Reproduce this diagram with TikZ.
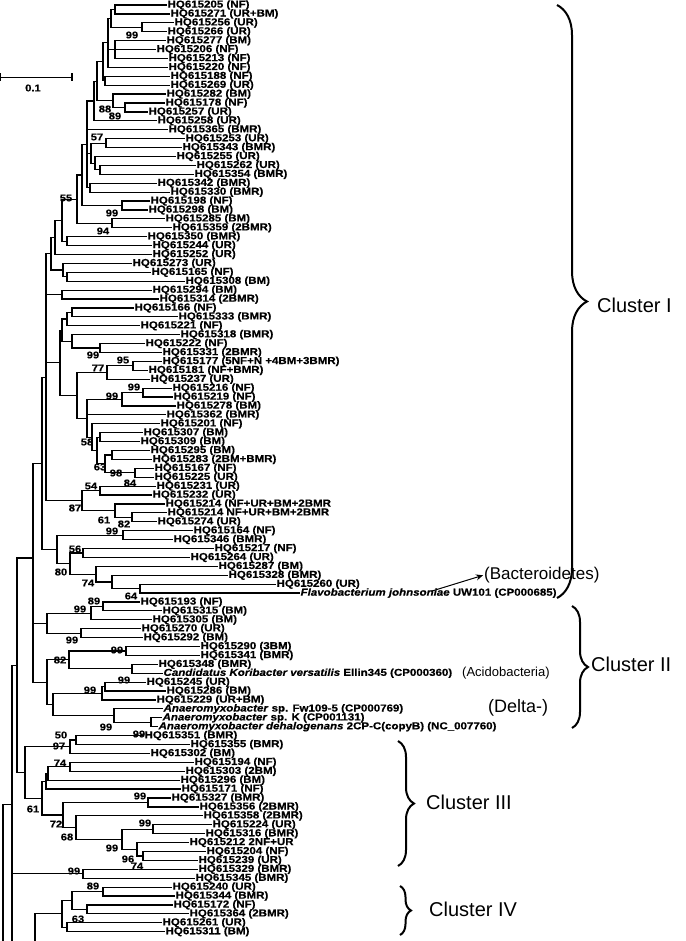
\documentclass[tikz,border=0pt]{standalone}
\usepackage{fontspec}
\setmainfont{Liberation Sans}
\newfontfamily\labfont{Liberation Sans}[FakeStretch=1.14, BoldFeatures={FakeBold=0.6}, BoldItalicFeatures={FakeBold=0.6}]
\usetikzlibrary{calc,decorations.pathreplacing,arrows.meta}
\newcommand\lf[4]{\node[lab] (#1) at (#2,{5+(#3-1)*8.91}) {#4};}
\newcommand\inode[4]{\path let \p1=(#3), \p2=(#4) in coordinate (#1) at (#2pt,{0.5*\y1+0.5*\y2});}
\newcommand\kids[2]{\foreach \ch in {#2}{\draw[br] (#1) |- (\ch);}}
\newcommand\bsl[4]{\node[bs] (#1) at (#2,#3) {#4};}
\begin{document}
\begin{tikzpicture}[x=1pt,y=-1pt,
  br/.style={line width=1.2pt},
  lab/.style={font=\labfont\fontsize{10.1}{10.1}\selectfont\bfseries, inner sep=0.4pt, anchor=west},
  bs/.style={font=\labfont\fontsize{9.8}{9.8}\selectfont\bfseries, inner sep=0pt},
  clu/.style={font=\fontsize{20}{20}\selectfont, inner sep=0pt, anchor=west},
  brc/.style={decorate, line width=2pt, decoration={brace, amplitude=#1, aspect=0.5}},
]
\useasboundingbox (0,0) rectangle (685,941);
\clip (0,0) rectangle (685,941);
% leaves
\lf{L1}{167}{1}{HQ615205 (NF)}
\lf{L2}{170}{2}{HQ615271 (UR+BM)}
\lf{L3}{174}{3}{HQ615256 (UR)}
\lf{L4}{167}{4}{HQ615266 (UR)}
\lf{L5}{166}{5}{HQ615277 (BM)}
\lf{L6}{156}{6}{HQ615206 (NF)}
\lf{L7}{168}{7}{HQ615213 (NF)}
\lf{L8}{168}{8}{HQ615220 (NF)}
\lf{L9}{170}{9}{HQ615188 (NF)}
\lf{L10}{170}{10}{HQ615269 (UR)}
\lf{L11}{166}{11}{HQ615282 (BM)}
\lf{L12}{165}{12}{HQ615178 (NF)}
\lf{L13}{148}{13}{HQ615257 (UR)}
\lf{L14}{157}{14}{HQ615258 (UR)}
\lf{L15}{168}{15}{HQ615365 (BMR)}
\lf{L16}{185}{16}{HQ615253 (UR)}
\lf{L17}{182}{17}{HQ615343 (BMR)}
\lf{L18}{176}{18}{HQ615255 (UR)}
\lf{L19}{196}{19}{HQ615262 (UR)}
\lf{L20}{194}{20}{HQ615354 (BMR)}
\lf{L21}{157}{21}{HQ615342 (BMR)}
\lf{L22}{170}{22}{HQ615330 (BMR)}
\lf{L23}{150}{23}{HQ615198 (NF)}
\lf{L24}{148}{24}{HQ615298 (BM)}
\lf{L25}{165}{25}{HQ615285 (BM)}
\lf{L26}{172}{26}{HQ615359 (2BMR)}
\lf{L27}{147}{27}{HQ615350 (BMR)}
\lf{L28}{152}{28}{HQ615244 (UR)}
\lf{L29}{152}{29}{HQ615252 (UR)}
\lf{L30}{132}{30}{HQ615273 (UR)}
\lf{L31}{151}{31}{HQ615165 (NF)}
\lf{L32}{185}{32}{HQ615308 (BM)}
\lf{L33}{152}{33}{HQ615294 (BM)}
\lf{L34}{159}{34}{HQ615314 (2BMR)}
\lf{L35}{134}{35}{HQ615166 (NF)}
\lf{L36}{178}{36}{HQ615333 (BMR)}
\lf{L37}{140}{37}{HQ615221 (NF)}
\lf{L38}{180}{38}{HQ615318 (BMR)}
\lf{L39}{145}{39}{HQ615222 (NF)}
\lf{L40}{162}{40}{HQ615331 (2BMR)}
\lf{L41}{162}{41}{HQ615177 (5NF+N +4BM+3BMR)}
\lf{L42}{148}{42}{HQ615181 (NF+BMR)}
\lf{L43}{150}{43}{HQ615237 (UR)}
\lf{L44}{172}{44}{HQ615216 (NF)}
\lf{L45}{173}{45}{HQ615219 (NF)}
\lf{L46}{176}{46}{HQ615278 (BM)}
\lf{L47}{166}{47}{HQ615362 (BMR)}
\lf{L48}{160}{48}{HQ615201 (NF)}
\lf{L49}{143}{49}{HQ615307 (BM)}
\lf{L50}{140}{50}{HQ615309 (BM)}
\lf{L51}{150}{51}{HQ615295 (BM)}
\lf{L52}{152}{52}{HQ615283 (2BM+BMR)}
\lf{L53}{154}{53}{HQ615167 (NF)}
\lf{L54}{154}{54}{HQ615225 (UR)}
\lf{L55}{156}{55}{HQ615231 (UR)}
\lf{L56}{152}{56}{HQ615232 (UR)}
\lf{L57}{165}{57}{HQ615214 (NF+UR+BM+2BMR}
\lf{L58}{167}{58}{HQ615214 NF+UR+BM+2BMR}
\lf{L59}{157}{59}{HQ615274 (UR)}
\lf{L60}{193}{60}{HQ615164 (NF)}
\lf{L61}{173}{61}{HQ615346 (BMR)}
\lf{L62}{214}{62}{HQ615217 (NF)}
\lf{L63}{190}{63}{HQ615264 (UR)}
\lf{L64}{218}{64}{HQ615287 (BM)}
\lf{L65}{228}{65}{HQ615328 (BMR)}
\lf{L66}{276}{66}{HQ615260 (UR)}
\lf{L67}{300}{67}{\textit{Flavobacterium johnsoniae} UW101 (CP000685)}
\lf{L68}{140}{68}{HQ615193 (NF)}
\lf{L69}{162}{69}{HQ615315 (BM)}
\lf{L70}{152}{70}{HQ615305 (BM)}
\lf{L71}{141}{71}{HQ615270 (UR)}
\lf{L72}{143}{72}{HQ615292 (BM)}
\lf{L73}{200}{73}{HQ615290 (3BM)}
\lf{L74}{200}{74}{HQ615341 (BMR)}
\lf{L75}{158}{75}{HQ615348 (BMR)}
\lf{L76}{163}{76}{\textit{Candidatus Koribacter versatilis} Ellin345 (CP000360)}
\lf{L77}{146}{77}{HQ615245 (UR)}
\lf{L78}{166}{78}{HQ615286 (BM)}
\lf{L79}{156}{79}{HQ615229 (UR+BM)}
\lf{L80}{163}{80}{\textit{Anaeromyxobacter} sp. Fw109-5 (CP000769)}
\lf{L81}{162}{81}{\textit{Anaeromyxobacter} sp. K (CP001131)}
\lf{L82}{158}{82}{\textit{Anaeromyxobacter dehalogenans} 2CP-C(copyB) (NC\_007760)}
\lf{L83}{144}{83}{HQ615351 (BMR)}
\lf{L84}{190}{84}{HQ615355 (BMR)}
\lf{L85}{150}{85}{HQ615302 (BM)}
\lf{L86}{194}{86}{HQ615194 (NF)}
\lf{L87}{185}{87}{HQ615303 (2BM)}
\lf{L88}{180}{88}{HQ615296 (BM)}
\lf{L89}{181}{89}{HQ615171 (NF)}
\lf{L90}{171}{90}{HQ615327 (BMR)}
\lf{L91}{199}{91}{HQ615356 (2BMR)}
\lf{L92}{203}{92}{HQ615358 (2BMR)}
\lf{L93}{212}{93}{HQ615224 (UR)}
\lf{L94}{205}{94}{HQ615316 (BMR)}
\lf{L95}{189}{95}{HQ615212 2NF+UR}
\lf{L96}{206}{96}{HQ615204 (NF)}
\lf{L97}{198}{97}{HQ615239 (UR)}
\lf{L98}{198}{98}{HQ615329 (BMR)}
\lf{L99}{195}{99}{HQ615345 (BMR)}
\lf{L100}{172}{100}{HQ615240 (UR)}
\lf{L101}{175}{101}{HQ615344 (BMR)}
\lf{L102}{173}{102}{HQ615172 (NF)}
\lf{L103}{189}{103}{HQ615364 (2BMR)}
\lf{L104}{162}{104}{HQ615261 (UR)}
\lf{L105}{165}{105}{HQ615311 (BM)}
\coordinate (OFFa) at (60,975);
\coordinate (OFFb) at (20,1200);
% internal nodes, Cluster I
\inode{A}{115}{L1}{L2}\kids{A}{L1,L2}
\inode{C}{142}{L3}{L4}\kids{C}{L3,L4}
\inode{B}{111}{A}{C}\kids{B}{A,C}
\inode{D}{115}{L5}{L7}\kids{D}{L5,L6,L7}
\inode{E}{108}{B}{L8}\kids{E}{B,D,L8}
\inode{F}{105}{L9}{L10}\kids{F}{L9,L10}
\inode{K}{103}{E}{F}\kids{K}{E,F}
\inode{G}{125}{L12}{L13}\kids{G}{L12,L13}
\inode{H}{113}{L11}{G}\kids{H}{L11,G}
\inode{NL}{97}{K}{H}\kids{NL}{K,H}
\inode{M}{94}{NL}{L14}\kids{M}{NL,L14}
\inode{O}{106}{L16}{L17}\kids{O}{L16,L17}
\inode{Q}{100}{L19}{L20}\kids{Q}{L19,L20}
\inode{P}{95}{L18}{Q}\kids{P}{L18,Q}
\inode{R}{91}{O}{P}\kids{R}{O,P}
\inode{S}{90}{L21}{L22}\kids{S}{L21,L22}
\inode{T}{87}{M}{S}\kids{T}{M,L15,R,S}
\inode{V}{122}{L23}{L24}\kids{V}{L23,L24}
\inode{X}{82}{T}{V}\kids{X}{T,V}
\inode{W}{112}{L25}{L26}\kids{W}{L25,L26}
\inode{Y}{77}{X}{W}\kids{Y}{X,W}
\inode{Z}{67}{L27}{L28}\kids{Z}{L27,L28}
\inode{AA}{62}{Y}{Z}\kids{AA}{Y,Z}
\inode{AB}{55}{AA}{L29}\kids{AB}{AA,L29}
\inode{AC}{67}{L31}{L32}\kids{AC}{L31,L32}
\inode{AD}{63}{L30}{AC}\kids{AD}{L30,AC}
\inode{AE}{51}{AB}{AD}\kids{AE}{AB,AD}
\inode{AF}{62}{L33}{L34}\kids{AF}{L33,L34}
\inode{AG}{72}{L35}{L36}\kids{AG}{L35,L36}
\inode{AH}{67}{AG}{L37}\kids{AH}{AG,L37}
\inode{AI}{100}{L39}{L40}\kids{AI}{L39,L40}
\inode{AJ}{72}{L38}{AI}\kids{AJ}{L38,AI}
\inode{AK}{62}{AH}{AJ}\kids{AK}{AH,AJ}
\inode{AL}{133}{L41}{L42}\kids{AL}{L41,L42}
\inode{AM}{107}{AL}{L43}\kids{AM}{AL,L43}
\inode{EC}{143}{L44}{L45}\kids{EC}{L44,L45}
\inode{ED}{122}{EC}{L46}\kids{ED}{EC,L46}
\inode{FA}{135}{L53}{L54}\kids{FA}{L53,L54}
\inode{FB}{112}{L51}{L52}\kids{FB}{L51,L52}
\inode{FC}{105}{FB}{FA}\kids{FC}{FB,FA}
\inode{FD}{100}{L49}{L50}\kids{FD}{L49,L50}
\inode{FE}{97}{FD}{FC}\kids{FE}{FD,FC}
\inode{GA}{92}{L48}{FE}\kids{GA}{L48,FE}
\inode{GB}{87}{ED}{GA}\kids{GB}{ED,L47,GA}
\inode{GC}{77}{AM}{GB}\kids{GC}{AM,GB}
\inode{EA}{60}{AK}{GC}\kids{EA}{AK,GC}
\inode{DN}{100}{L55}{L56}\kids{DN}{L55,L56}
\inode{DA}{132}{L58}{L59}\kids{DA}{L58,L59}
\inode{DB}{115}{L57}{DA}\kids{DB}{L57,DA}
\inode{DC}{82}{DN}{DB}\kids{DC}{DN,DB}
\inode{HA}{46}{AE}{DC}\kids{HA}{AE,AF,EA,DC}
\inode{DD}{123}{L60}{L61}\kids{DD}{L60,L61}
\inode{DE}{83}{L62}{L63}\kids{DE}{L62,L63}
\inode{DF}{140}{L66}{L67}\kids{DF}{L66,L67}
\inode{DG}{112}{L65}{DF}\kids{DG}{L65,DF}
\inode{DH}{96}{L64}{DG}\kids{DH}{L64,DG}
\inode{DI}{70}{DE}{DH}\kids{DI}{DE,DH}
\inode{DJ}{57}{DD}{DI}\kids{DJ}{DD,DI}
\inode{DK}{42}{HA}{DJ}\kids{DK}{HA,DJ}
% Cluster II
\inode{IA}{103}{L68}{L69}\kids{IA}{L68,L69}
\inode{IB}{91}{IA}{L70}\kids{IB}{IA,L70}
\inode{IC}{81}{L71}{L72}\kids{IC}{L71,L72}
\inode{ID}{47}{IB}{IC}\kids{ID}{IB,IC}
\inode{IE}{126}{L73}{L74}\kids{IE}{L73,L74}
\inode{IF}{132}{L75}{L76}\kids{IF}{L75,L76}
\inode{IG}{69}{IE}{IF}\kids{IG}{IE,IF}
\inode{IHa}{105}{L77}{L78}\kids{IHa}{L77,L78}
\inode{IH}{102}{IHa}{L79}\kids{IH}{IHa,L79}
\inode{II}{151}{L81}{L82}\kids{II}{L81,L82}
\inode{IJ}{114}{L80}{II}\kids{IJ}{L80,II}
\inode{IK}{53}{IH}{IJ}\kids{IK}{IH,IJ}
\inode{IL}{47}{IG}{IK}\kids{IL}{IG,IK}
\inode{CII}{33}{ID}{IL}\kids{CII}{ID,IL}
\inode{CI}{33}{DK}{CII}\kids{CI}{DK,CII}
% Cluster III
\inode{JA}{76}{L83}{L84}\kids{JA}{L83,L84}
\inode{JB}{70}{JA}{L85}\kids{JB}{JA,L85}
\inode{JC}{70}{L86}{L87}\kids{JC}{L86,L87}
\inode{JD}{48}{JC}{L88}\kids{JD}{JC,L88}
\inode{JE}{46}{JD}{L89}\kids{JE}{JD,L89}
\inode{JF}{148}{L90}{L91}\kids{JF}{L90,L91}
\inode{JG}{153}{L93}{L94}\kids{JG}{L93,L94}
\inode{JH}{143}{L96}{L97}\kids{JH}{L96,L97}
\inode{JI}{137}{L95}{JH}\kids{JI}{L95,JH}
\inode{JJ}{122}{JG}{JI}\kids{JJ}{JG,JI}
\inode{JK}{76}{L92}{JJ}\kids{JK}{L92,JJ}
\inode{JL}{63}{JF}{JK}\kids{JL}{JF,JK}
\inode{JM}{42}{JE}{JL}\kids{JM}{JE,JL}
\inode{JN}{25}{JB}{JM}\kids{JN}{JB,JM}
\inode{KA}{83}{L98}{L99}\kids{KA}{L98,L99}
% Cluster IV
\inode{LA}{103}{L100}{L101}\kids{LA}{L100,L101}
\inode{LB}{87}{L102}{L103}\kids{LB}{L102,L103}
\inode{LC}{72}{LA}{LB}\kids{LC}{LA,LB}
\inode{LD}{67}{L104}{L105}\kids{LD}{L104,L105}
\inode{LE}{62}{LC}{LD}\kids{LE}{LC,LD}
\inode{LF}{35}{LE}{OFFa}\kids{LF}{LE,OFFa}
% root
\inode{RA}{17}{CI}{JN}\kids{RA}{CI,JN}
\inode{RB}{12}{RA}{LF}\kids{RB}{RA,KA,LF}
\inode{RC}{3}{RB}{OFFb}\kids{RC}{RB,OFFb}
% bootstrap values
\bsl{b1}{132}{35}{99}
\bsl{b2}{105}{109}{88}
\bsl{b3}{115}{116}{89}
\bsl{b4}{97}{137}{57}
\bsl{b5}{66}{198}{55}
\bsl{b6}{112}{213}{99}
\bsl{b7}{103}{231}{94}
\bsl{b8}{93}{355}{99}
\bsl{b9}{123}{360}{95}
\bsl{b10}{98}{368}{77}
\bsl{b11}{134}{387}{99}
\bsl{b12}{112}{396}{99}
\bsl{b13}{87}{442}{58}
\bsl{b14}{100}{467}{63}
\bsl{b15}{116}{473}{98}
\bsl{b16}{130}{483}{84}
\bsl{b17}{91}{486}{54}
\bsl{b18}{75}{508}{87}
\bsl{b19}{104}{520}{61}
\bsl{b20}{124}{524}{82}
\bsl{b21}{112}{531}{99}
\bsl{b22}{75}{549}{56}
\bsl{b23}{61}{572}{80}
\bsl{b24}{88}{583}{74}
\bsl{b25}{131}{596}{64}
\bsl{b26}{94}{601}{89}
\bsl{b27}{80}{609}{99}
\bsl{b28}{72}{640}{99}
\bsl{b29}{117}{650}{99}
\bsl{b30}{60}{660}{82}
\bsl{b31}{124}{680}{99}
\bsl{b32}{90}{690}{99}
\bsl{b33}{106}{727}{99}
\bsl{b34}{139}{734}{99}
\bsl{b35}{61}{735}{50}
\bsl{b36}{59}{746}{97}
\bsl{b37}{60}{763}{74}
\bsl{b38}{140}{796}{99}
\bsl{b39}{145}{823}{99}
\bsl{b40}{128}{859}{96}
\bsl{b41}{137}{866}{74}
\bsl{b42}{112}{848}{99}
\bsl{b43}{67}{837}{68}
\bsl{b44}{56}{824}{72}
\bsl{b45}{33}{809}{61}
\bsl{b46}{74}{871}{99}
\bsl{b47}{93}{886}{89}
\bsl{b48}{78}{919}{63}
% scale bar
\coordinate (sba) at (0.8,77.5);
\coordinate (sbb) at (72,77.5);
\draw[br] (sba) -- (sbb);
\draw[br] ($(sba)+(0,-4)$) -- ($(sba)+(0,4)$);
\draw[br] ($(sbb)+(0,-4)$) -- ($(sbb)+(0,4)$);
\node[bs] (sbl) at (33,88) {0.1};
% braces and group labels
\coordinate (c1t) at (557,5); \coordinate (c1b) at (557,598);
\draw[brc=30pt] (c1t) -- (c1b);
\coordinate (c2t) at (572,606); \coordinate (c2b) at (572,728);
\draw[brc=16pt] (c2t) -- (c2b);
\coordinate (c3t) at (398,741); \coordinate (c3b) at (398,866);
\draw[brc=16pt] (c3t) -- (c3b);
\coordinate (c4t) at (400,886); \coordinate (c4b) at (400,935);
\draw[brc=11pt] (c4t) -- (c4b);
\node[clu] (cl1) at (597,305) {Cluster I};
\node[clu] (cl2) at (591,664) {Cluster II};
\node[clu] (cl3) at (426,802) {Cluster III};
\node[clu] (cl4) at (429,909) {Cluster IV};
\node[clu, font=\fontsize{17}{17}\selectfont] (bact) at (484,575) {(Bacteroidetes)};
\node[clu, font=\fontsize{13}{13}\selectfont] (acido) at (462,673) {(Acidobacteria)};
\node[clu, font=\fontsize{18}{18}\selectfont] (delta) at (488,708) {(Delta-)};
\coordinate (arrs) at (432,591);
\draw[line width=1pt, -{Stealth[length=7pt,width=6pt]}, shorten >=1pt] (arrs) -- (bact.west);
\end{tikzpicture}
\end{document}
